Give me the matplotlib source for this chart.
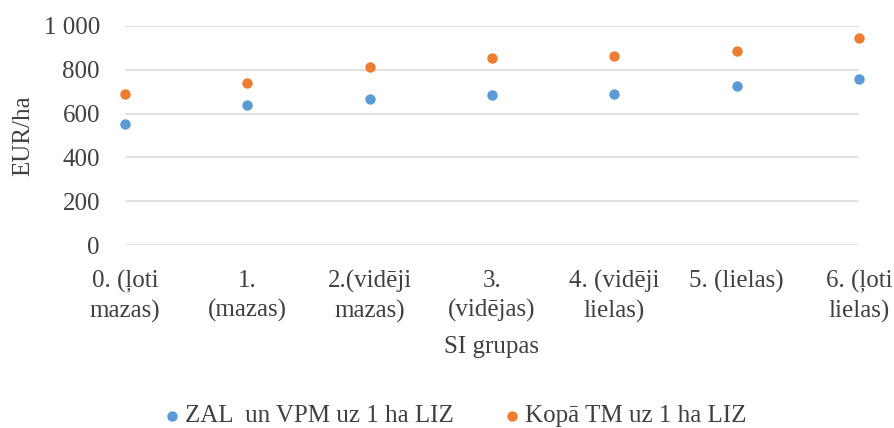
import matplotlib
matplotlib.use("Agg")
import matplotlib.pyplot as plt
from matplotlib.ticker import FuncFormatter, MultipleLocator

categories = ["0. (ļoti\nmazas)", "1.\n(mazas)", "2.(vidēji\nmazas)", "3.\n(vidējas)",
              "4. (vidēji\nlielas)", "5. (lielas)", "6. (ļoti\nlielas)"]
zal_vpm = [554, 641, 668, 683, 691, 727, 759]
kopa_tm = [689, 740, 814, 852, 863, 884, 944]
series_names = ["ZAL  un VPM uz 1 ha LIZ", "Kopā TM uz 1 ha LIZ"]

plt.rcParams['font.family'] = ['Liberation Serif', 'DejaVu Serif']
FS = 18
TXT = '#404040'

fig = plt.figure(figsize=(8.95, 4.28), dpi=100)
ax = fig.add_axes([125/895, 1-245/428, 734/895, 219/428])

x = list(range(len(categories)))
ax.scatter(x, zal_vpm, s=56, color='#5B9BD5', label=series_names[0], zorder=3, clip_on=False, linewidths=0)
ax.scatter(x, kopa_tm, s=56, color='#ED7D31', label=series_names[1], zorder=3, clip_on=False, linewidths=0)

ax.set_xlim(0, len(categories) - 1)
ax.set_ylim(0, 1000)
ax.yaxis.set_major_locator(MultipleLocator(200))
ax.yaxis.set_major_formatter(FuncFormatter(lambda v, p: f"{int(v):,}".replace(",", " ")))
ax.set_xticks(x)
ax.set_xticklabels(categories, fontsize=FS, color=TXT, linespacing=1.4)
ax.tick_params(axis='both', length=0, labelsize=FS, labelcolor=TXT)
ax.tick_params(axis='y', pad=18)
ax.tick_params(axis='x', pad=18)
ax.grid(axis='y', color='#D9D9D9', linewidth=1.1)
ax.set_axisbelow(True)
for s in ax.spines.values():
    s.set_visible(False)

ax.set_ylabel("EUR/ha", fontsize=FS, color=TXT, labelpad=7)
ax.set_xlabel("SI grupas", fontsize=FS, color=TXT, labelpad=9)

fig.legend(loc='center', bbox_to_anchor=(455/895, 1-416/428), ncol=2, frameon=False,
           fontsize=FS, handlelength=0.7, handletextpad=0.15, columnspacing=2.0,
           labelcolor=TXT, borderaxespad=0, borderpad=0, markerscale=1.0)

fig.savefig("out.png", dpi=100, facecolor='white')
